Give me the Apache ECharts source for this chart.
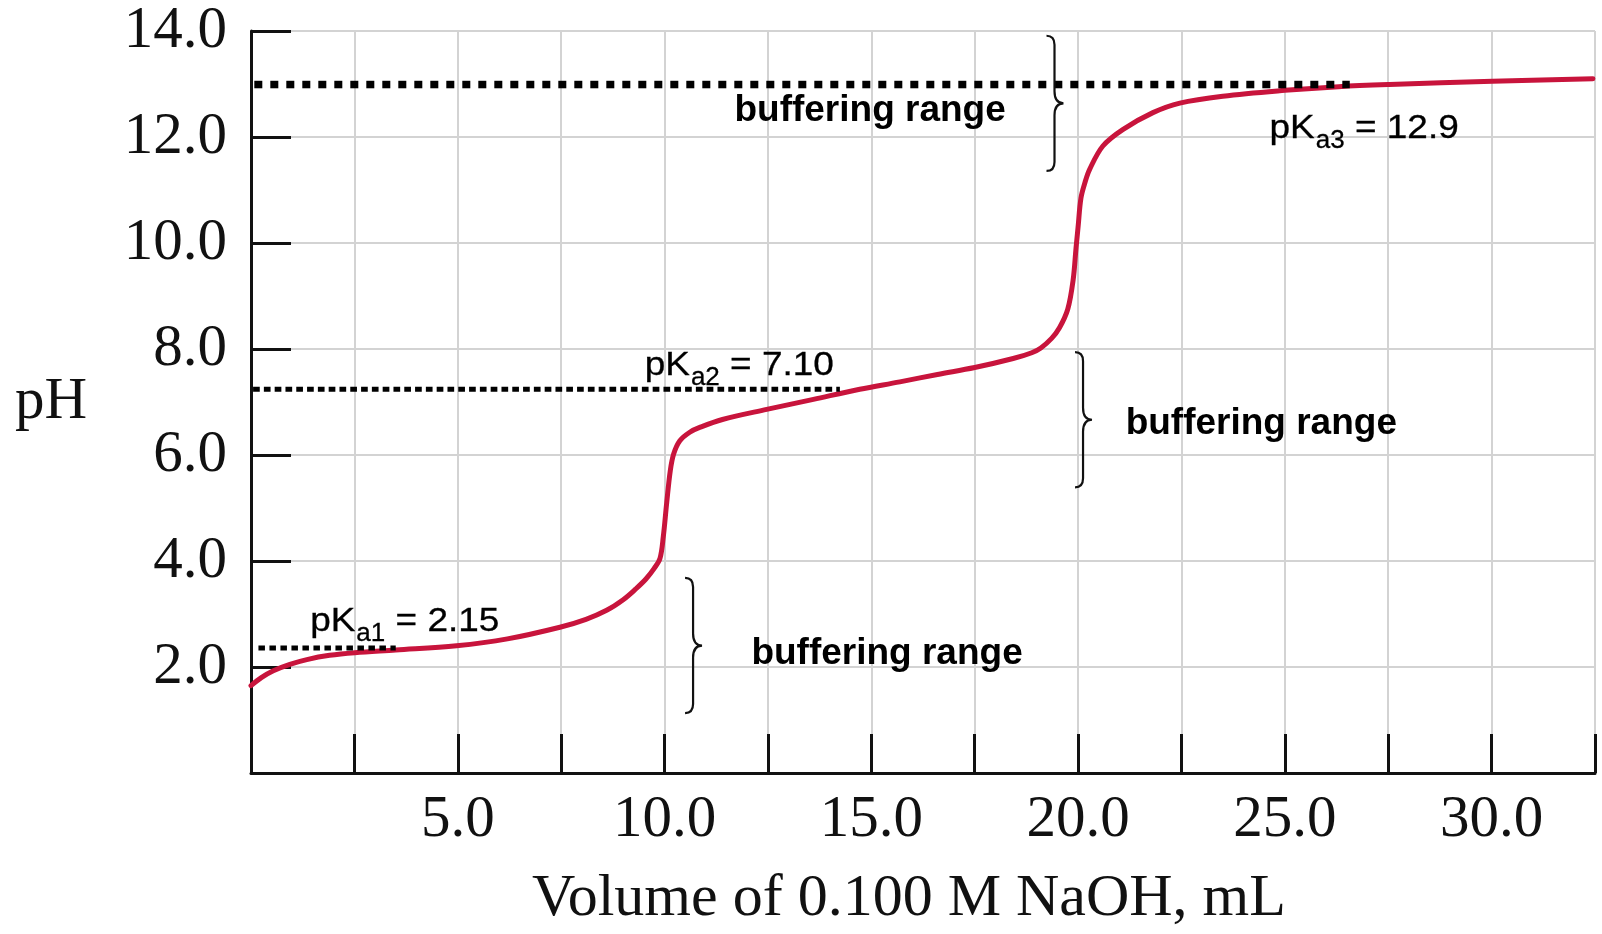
<!DOCTYPE html>
<html>
<head>
<meta charset="utf-8">
<script src="https://cdn.jsdelivr.net/npm/echarts@6/dist/echarts.min.js"></script>
<style>
html,body{margin:0;padding:0;background:#fff;}
#chart{width:1602px;height:934px;}
</style>
</head>
<body>
<div id="chart"></div>
<script>
// ---- data ----
const volume = [0, 0.25, 0.54, 0.94, 1.35, 1.9, 2.51, 3.5, 4.97, 6.2, 7.47, 8.1, 8.6, 9.0, 9.3, 9.55, 9.75, 9.89, 9.97, 10.05, 10.14, 10.22, 10.37, 10.61, 10.85, 11.4, 12.47, 13.6, 14.72, 15.69, 16.6, 17.5, 18.43, 18.88, 19.1, 19.36, 19.55, 19.75, 19.88, 19.95, 20.0, 20.07, 20.17, 20.28, 20.6, 21.08, 21.81, 22.46, 23.5, 25.0, 26.3, 27.53, 30.02, 32.45];
const pH = [1.65, 1.80, 1.93, 2.05, 2.14, 2.22, 2.27, 2.32, 2.40, 2.53, 2.75, 2.90, 3.07, 3.27, 3.47, 3.66, 3.86, 4.05, 4.46, 5.08, 5.71, 6.02, 6.27, 6.43, 6.52, 6.67, 6.86, 7.05, 7.24, 7.38, 7.52, 7.65, 7.82, 7.93, 8.02, 8.20, 8.40, 8.75, 9.30, 9.90, 10.30, 10.85, 11.15, 11.39, 11.83, 12.14, 12.46, 12.64, 12.77, 12.88, 12.95, 12.99, 13.05, 13.10];

const xTickLabelValues = [5, 10, 15, 20, 25, 30];
const yTickLabelValues = [2, 4, 6, 8, 10, 12, 14];

const pkaSubscripts = ['a1', 'a2', 'a3'];
const pkaValues = ['2.15', '7.10', '12.9'];
const pkaLabelX = [1.43, 9.52, 24.63];
const pkaLabelY = [2.85, 7.68, 12.16];

const pkaLineStart = [0.18, 0.05, 0.08];
const pkaLineEnd = [3.5, 14.24, 26.57];
const pkaLineLevel = [2.36, 7.24, 12.99];

const braceX = [10.69, 20.12, 19.43];
const braceLow = [1.13, 5.39, 11.36];
const braceHigh = [3.68, 7.94, 13.91];

const bufferText = 'buffering range';
const bufferLabelX = [12.10, 21.15, 11.69];
const bufferLabelY = [2.25, 6.59, 12.49];

// ---- chart ----
const serif = '"Liberation Serif", "Times New Roman", serif';
const sans = '"Liberation Sans", Arial, sans-serif';
const mainFont = '33px ' + sans;
const subFont = '26px ' + sans;
const boldFont = 'bold 37px ' + sans;
const stretch = 1.12;

const mctx = document.createElement('canvas').getContext('2d');
function measure(t, f) { mctx.font = f; return mctx.measureText(t).width; }

const curveData = volume.map((v, i) => [v, pH[i]]);

function pkaLine(i, width, dash) {
  return {
    type: 'line',
    data: [[pkaLineStart[i], pkaLineLevel[i]], [pkaLineEnd[i], pkaLineLevel[i]]],
    showSymbol: false,
    symbol: 'none',
    silent: true,
    z: 5,
    lineStyle: { color: '#000', width: width, type: dash, cap: 'butt' }
  };
}

const chart = echarts.init(document.getElementById('chart'), null, { renderer: 'canvas' });

const option = {
  animation: false,
  backgroundColor: '#fff',
  grid: { left: 251, right: 7, top: 31, bottom: 156, containLabel: false },
  xAxis: {
    type: 'value',
    min: 0, max: 32.5, interval: 2.5,
    axisLine: { show: true, onZero: false, lineStyle: { color: '#111', width: 3 } },
    axisTick: { show: true, inside: true, length: 39, lineStyle: { color: '#111', width: 3 } },
    splitLine: { show: true, lineStyle: { color: '#d3d3d3', width: 2 } },
    axisLabel: {
      show: true, margin: 18, color: '#111', fontFamily: serif, fontSize: 59,
      formatter: v => xTickLabelValues.some(t => Math.abs(t - v) < 1e-6) ? v.toFixed(1) : ''
    },
    name: 'Volume of 0.100 M NaOH, mL',
    nameLocation: 'middle',
    nameGap: 96,
    nameTextStyle: { color: '#111', fontFamily: serif, fontSize: 60, padding: [0, 28, 0, 0] }
  },
  yAxis: {
    type: 'value',
    min: 0, max: 14, interval: 2,
    axisLine: { show: true, lineStyle: { color: '#111', width: 3 } },
    axisTick: { show: true, inside: true, length: 40, lineStyle: { color: '#111', width: 3 } },
    splitLine: { show: true, lineStyle: { color: '#d3d3d3', width: 2 } },
    axisLabel: {
      show: true, margin: 24, color: '#111', fontFamily: serif, fontSize: 59,
      formatter: v => yTickLabelValues.some(t => Math.abs(t - v) < 1e-6) ? v.toFixed(1) : ''
    },
    name: 'pH',
    nameLocation: 'middle',
    nameRotate: 0,
    nameGap: 164,
    nameTextStyle: { color: '#111', fontFamily: serif, fontSize: 59 }
  },
  series: [
    {
      type: 'line',
      data: curveData,
      showSymbol: false,
      symbol: 'none',
      smooth: 0.35,
      z: 3,
      lineStyle: { color: '#c8143c', width: 5, cap: 'round', join: 'round' }
    },
    pkaLine(0, 5, [6.5, 4.5]),
    pkaLine(1, 5, [6.7, 4.1]),
    pkaLine(2, 7.5, [8, 8]),
    {
      type: 'custom',
      coordinateSystem: 'cartesian2d',
      silent: true,
      z: 6,
      data: braceX.map((x, i) => [x, braceLow[i], braceHigh[i]]),
      renderItem: function (params, api) {
        const top = api.coord([api.value(0), api.value(2)]);
        const bot = api.coord([api.value(0), api.value(1)]);
        const x = top[0], yt = top[1], yb = bot[1], ym = (yt + yb) / 2;
        const c = 8, r = 9, t = 9, rm = 12;
        const d = 'M' + (x - c) + ' ' + yt +
          ' Q' + x + ' ' + yt + ' ' + x + ' ' + (yt + r) +
          ' L' + x + ' ' + (ym - rm) +
          ' Q' + x + ' ' + ym + ' ' + (x + t) + ' ' + ym +
          ' Q' + x + ' ' + ym + ' ' + x + ' ' + (ym + rm) +
          ' L' + x + ' ' + (yb - r) +
          ' Q' + x + ' ' + yb + ' ' + (x - c) + ' ' + yb;
        return {
          type: 'path',
          shape: { pathData: d },
          style: { stroke: '#111', fill: 'none', lineWidth: 2.2 }
        };
      }
    },
    {
      type: 'custom',
      coordinateSystem: 'cartesian2d',
      silent: true,
      z: 7,
      data: pkaLabelX.map((x, i) => [x, pkaLabelY[i], i]),
      renderItem: function (params, api) {
        const i = api.value(2);
        const p = api.coord([api.value(0), api.value(1)]);
        const w1 = measure('pK', mainFont) * stretch;
        const ws = measure(pkaSubscripts[i], subFont);
        const mk = (txt, font, x, y, sx) => ({
          type: 'text', x: x, y: y, scaleX: sx, scaleY: 1,
          style: { text: txt, font: font, fill: '#000', stroke: '#000', lineWidth: 0.3,
                   textAlign: 'left', textVerticalAlign: 'middle', align: 'left', verticalAlign: 'middle' }
        });
        return {
          type: 'group',
          children: [
            mk('pK', mainFont, p[0], p[1], stretch),
            mk(pkaSubscripts[i], subFont, p[0] + w1 + 1, p[1] + 12, 1),
            mk(' = ' + pkaValues[i], mainFont, p[0] + w1 + ws + 1, p[1], stretch)
          ]
        };
      }
    },
    {
      type: 'custom',
      coordinateSystem: 'cartesian2d',
      silent: true,
      z: 7,
      data: bufferLabelX.map((x, i) => [x, bufferLabelY[i]]),
      renderItem: function (params, api) {
        const p = api.coord([api.value(0), api.value(1)]);
        return {
          type: 'text', x: p[0], y: p[1],
          style: { text: bufferText, font: boldFont, fill: '#000', textAlign: 'left', textVerticalAlign: 'middle', align: 'left', verticalAlign: 'middle' }
        };
      }
    }
  ]
};

chart.setOption(option);
</script>
</body>
</html>
